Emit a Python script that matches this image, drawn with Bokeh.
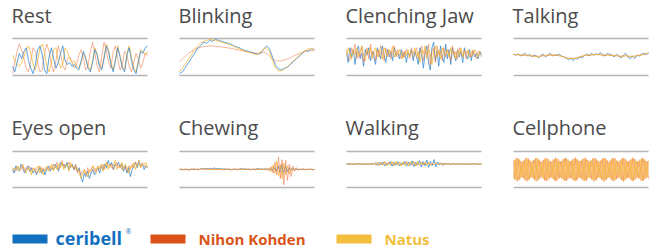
from bokeh.plotting import figure
from bokeh.models import Range1d, Label
from bokeh.layouts import column, row
from bokeh.embed import file_html
from bokeh.resources import INLINE
from bokeh.core.properties import value

# ---------------- data (values relative to the gray guide lines: +1 top, -1 bottom) ----------------
titles = ["Rest", "Blinking", "Clenching Jaw", "Talking",
          "Eyes open", "Chewing", "Walking", "Cellphone"]

legend_labels = ["ceribell", "Nihon Kohden", "Natus"]

rest_ceribell = [-0.5,-0.8,-0.3,0.2,-0.1,0.3,0.5,-0.2,-0.6,-0.9,-0.4,0.4,0.6,0.1,-0.7,-0.9,0.0,0.5,-0.1,-0.6,-0.3,0.2,0.6,-0.2,-0.4,-0.3,-0.5,-0.4,-0.6,-0.7,-0.2,0.3,-0.1,-0.6,-0.8,-0.3,0.4,0.1,-0.5,-0.7,-0.1,0.6,0.3,-0.4,-0.8,-0.2,0.5,0.0,-0.6,-0.8,0.1,0.5,-0.2,-0.7,-0.9,-0.3,0.3,0.2,0.5,0.6]
rest_natus = [0.1,-0.2,-0.4,-0.5,-0.3,0.0,0.4,0.6,0.2,-0.4,-0.7,-0.2,0.5,0.7,0.2,-0.5,-0.8,-0.3,0.4,0.5,-0.2,-0.6,-0.4,0.5,0.3,-0.1,-0.3,-0.2,-0.5,-0.6,-0.3,0.2,0.0,-0.5,-0.7,-0.2,0.5,0.2,-0.4,-0.6,0.0,0.7,0.4,-0.3,-0.7,-0.1,0.6,0.1,-0.5,-0.7,0.2,0.6,0.0,-0.6,-0.8,-0.2,0.4,0.3,0.1,0.3]
rest_nihon = [-0.9,-0.3,0.3,0.7,0.4,-0.1,-0.6,-0.8,-0.2,0.5,0.3,-0.3,-0.8,-0.7,0.2,0.7,0.3,-0.4,-0.8,-0.2,0.6,0.2,-0.5,-0.7,-0.1,0.0,-0.3,-0.6,-0.4,0.1,0.4,-0.1,-0.7,-0.5,0.3,0.8,0.2,-0.5,-0.8,0.0,0.8,0.4,-0.3,-0.6,0.3,0.6,-0.1,-0.7,-0.4,0.3,0.1,-0.5,-0.8,-0.3,0.2,-0.1,-0.6,-0.3,0.2,0.1]

blink_ceribell = [-0.9,-0.8,-0.55,-0.3,-0.05,0.2,0.45,0.6,0.8,0.75,0.9,0.85,0.95,0.9,0.85,0.8,0.75,0.7,0.62,0.55,0.5,0.4,0.35,0.3,0.25,0.2,0.15,0.2,0.4,0.6,0.45,0.0,-0.45,-0.65,-0.7,-0.6,-0.55,-0.4,-0.25,-0.1,0.05,0.2,0.35,0.3,0.45,0.4]
blink_natus = [-0.8,-0.6,-0.35,-0.1,0.15,0.4,0.6,0.75,0.85,0.9,0.95,0.92,0.9,0.85,0.8,0.75,0.7,0.65,0.58,0.5,0.45,0.38,0.3,0.25,0.2,0.15,0.15,0.25,0.45,0.5,0.3,-0.2,-0.6,-0.75,-0.75,-0.65,-0.5,-0.35,-0.2,-0.05,0.1,0.25,0.35,0.45,0.45,0.4]
blink_nihon = [-0.25,-0.1,0.05,0.2,0.3,0.4,0.48,0.52,0.56,0.58,0.6,0.6,0.58,0.56,0.55,0.52,0.5,0.47,0.44,0.4,0.37,0.33,0.3,0.27,0.25,0.22,0.2,0.22,0.25,0.2,0.05,-0.1,-0.2,-0.22,-0.2,-0.15,-0.1,-0.05,0.05,0.12,0.2,0.25,0.3,0.35,0.35,0.32]

jaw_ceribell = [0.2,-0.3,0.5,0.0,0.4,-0.4,0.3,0.6,-0.1,0.2,-0.5,0.4,0.1,0.5,-0.2,0.3,0.0,-0.4,0.5,0.2,-0.1,0.6,0.1,-0.3,0.4,0.0,0.3,-0.2,0.5,0.1,0.2,-0.1,0.4,0.0,0.3,-0.3,0.2,0.1,0.4,-0.2,0.3,0.0,-0.4,0.5,0.1,-0.6,0.2,0.6,-0.3,-0.7,0.5,0.8,-0.2,0.3,-0.5,0.6,0.0,-0.3,0.7,-0.1,0.4,-0.4,0.5,0.1,-0.2,0.4,0.0,0.3,-0.3,0.5,0.1,-0.1,0.4,-0.2,0.3,0.0,0.2,-0.1,0.3,0.1]
jaw_nihon = [0.4,0.0,-0.2,0.5,0.2,0.7,-0.1,0.3,0.0,0.6,-0.3,0.2,0.5,-0.1,0.7,0.1,0.3,-0.2,0.4,0.0,0.6,0.2,-0.2,0.5,0.1,0.4,-0.1,0.3,0.6,0.0,0.4,0.1,-0.1,0.3,0.0,0.4,0.2,-0.1,0.5,0.0,0.2,0.5,-0.1,0.3,0.6,-0.2,0.4,0.1,0.7,-0.4,0.3,0.5,-0.3,0.6,0.1,0.3,-0.2,0.5,0.0,0.4,0.2,-0.2,0.6,0.0,0.3,-0.1,0.5,0.2,0.0,0.4,-0.1,0.3,0.2,0.0,0.4,0.1,-0.1,0.3,0.2,0.0]
jaw_natus = [0.1,0.5,0.2,-0.1,0.4,0.1,0.5,0.0,0.3,0.6,0.1,-0.2,0.4,0.2,0.5,-0.1,0.3,0.5,0.0,0.4,0.2,-0.1,0.5,0.3,0.0,0.4,0.2,0.6,0.0,0.3,0.1,0.4,0.2,-0.1,0.3,0.1,0.4,0.0,0.3,0.2,0.5,0.0,0.3,-0.3,0.4,0.2,0.6,-0.1,0.4,0.2,-0.4,0.3,0.6,0.0,0.4,-0.1,0.5,0.2,0.1,0.4,0.0,0.5,0.2,0.3,-0.1,0.4,0.1,0.5,0.0,0.3,0.2,0.4,0.0,0.3,0.1,0.4,0.2,0.0,0.3,0.2]

talk_ceribell = [0.15,0.1,0.18,0.05,0.12,0.2,0.08,0.14,0.02,0.1,0.05,-0.05,0.08,0.15,0.0,0.1,0.2,0.05,0.12,0.08,0.15,0.05,0.0,-0.05,-0.15,-0.05,-0.2,-0.08,-0.12,0.0,-0.05,0.08,0.15,0.05,0.2,0.1,0.18,0.12,0.25,0.1,0.05,0.2,0.15,0.1,0.0,0.15,0.05,-0.05,0.1,0.2,0.0,-0.1,0.05,-0.08,0.1,0.05,0.15,0.2,0.12,0.25]
talk_natus = [0.15,0.12,0.14,0.1,0.12,0.08,0.1,0.05,0.08,0.03,0.05,0.0,0.05,0.08,0.05,0.1,0.12,0.08,0.1,0.12,0.08,0.05,0.0,-0.05,-0.08,-0.1,-0.06,-0.08,-0.04,0.0,0.04,0.08,0.1,0.12,0.1,0.14,0.12,0.15,0.12,0.1,0.12,0.1,0.08,0.1,0.06,0.08,0.05,0.03,0.05,0.08,0.05,0.02,0.05,0.03,0.08,0.1,0.12,0.15,0.18,0.22]
talk_nihon = [0.12,0.13,0.11,0.12,0.09,0.1,0.07,0.08,0.05,0.06,0.03,0.04,0.06,0.07,0.09,0.1,0.1,0.11,0.1,0.09,0.07,0.04,0.01,-0.03,-0.06,-0.08,-0.07,-0.06,-0.03,0.01,0.05,0.07,0.09,0.1,0.11,0.12,0.13,0.13,0.12,0.11,0.11,0.1,0.09,0.09,0.07,0.07,0.05,0.04,0.05,0.06,0.05,0.04,0.04,0.05,0.07,0.09,0.12,0.14,0.17,0.2]

eyes_ceribell = [0.0,-0.2,0.2,0.0,-0.1,0.3,0.1,-0.2,0.0,0.2,-0.1,0.1,-0.2,0.0,-0.3,-0.1,0.1,-0.2,0.0,-0.3,0.0,0.2,-0.1,0.1,0.0,0.3,0.1,-0.1,0.4,0.2,0.3,0.1,0.4,0.0,0.2,0.3,0.0,0.2,-0.1,0.1,-0.4,-0.7,-0.2,-0.4,-0.1,-0.5,-0.2,0.0,-0.3,-0.1,0.1,-0.2,0.2,0.0,0.3,0.1,0.5,0.2,0.4,0.0,0.3,0.2,0.4,0.1,0.3,-0.1,0.2,-0.2,0.1,-0.4,0.0,0.2,0.4,0.1,0.5,0.2,0.3,0.0,0.2,0.1]
eyes_nihon = [0.1,0.0,-0.1,0.2,0.1,0.0,0.2,-0.1,0.1,0.0,0.2,-0.1,0.0,0.1,-0.2,0.0,0.2,-0.1,0.1,-0.1,0.1,0.0,0.2,0.0,0.3,0.1,0.4,0.0,0.2,0.5,0.1,0.3,0.2,0.4,0.1,0.2,0.0,0.3,-0.2,0.0,-0.3,-0.1,0.0,-0.3,0.1,-0.2,0.0,0.2,-0.1,0.1,0.0,0.2,0.1,0.3,0.0,0.4,0.2,0.1,0.3,0.0,0.2,0.4,0.1,0.3,0.0,0.2,0.1,-0.1,0.2,0.0,0.3,0.1,0.4,0.2,0.3,0.1,0.4,0.2,0.1,0.2]
eyes_natus = [-0.1,0.1,0.0,0.2,-0.1,0.1,0.3,0.0,-0.2,0.1,0.0,-0.3,0.1,-0.1,0.0,0.2,-0.2,0.1,-0.3,0.0,0.2,-0.1,0.0,0.3,-0.1,0.2,0.0,0.3,0.1,0.4,0.0,0.2,0.3,-0.1,0.4,0.1,0.2,0.0,0.1,-0.2,-0.5,-0.3,0.0,-0.2,-0.4,0.0,-0.1,0.2,0.0,-0.2,0.2,0.0,0.3,-0.1,0.2,0.4,0.0,0.3,0.1,0.2,0.5,0.0,0.2,0.1,0.4,0.0,0.3,0.1,-0.2,0.2,0.1,0.4,0.0,0.3,0.5,0.1,0.3,0.2,0.4,0.1]

chew_ceribell = [0.0,0.03,-0.02,0.02,0.0,-0.03,0.02,0.0,0.03,-0.01,0.02,0.0,0.04,0.06,0.03,0.07,0.04,0.06,0.05,0.08,0.04,0.06,0.03,0.05,0.02,0.04,0.0,0.03,-0.02,0.02,0.0,0.03,-0.01,0.02,0.05,0.02,0.04,0.0,0.03,-0.02,0.02,0.0,0.03,0.05,0.02,0.04,0.0,0.03,0.02,0.0,0.05,-0.05,0.12,-0.1,0.2,-0.15,0.25,-0.2,0.15,-0.12,0.1,-0.05,0.06,0.0,0.03,-0.02,0.02,0.0,0.03,-0.01,0.02,0.0,0.02,-0.02,0.0]
chew_nihon = [0.02,-0.02,0.01,-0.03,0.02,0.0,-0.02,0.03,0.0,0.02,-0.02,0.01,0.03,0.0,0.02,-0.01,0.03,0.01,0.04,0.0,0.02,-0.02,0.01,0.03,0.0,-0.02,0.02,0.0,0.03,-0.01,0.02,0.0,-0.02,0.02,0.01,0.03,0.0,0.02,-0.01,0.02,0.0,0.03,-0.02,0.02,0.0,0.01,0.03,-0.01,0.02,0.05,-0.08,0.15,-0.2,0.4,-0.3,0.7,-0.5,0.55,-0.85,0.5,-0.6,0.3,-0.4,0.2,-0.1,0.1,-0.05,0.03,0.0,0.02,-0.02,0.01,0.0,0.02,-0.01,0.01]
chew_natus = [0.0,0.02,-0.01,0.02,0.0,-0.02,0.03,0.0,0.02,-0.01,0.03,0.0,0.02,0.04,0.01,0.03,0.0,0.02,-0.02,0.03,0.0,0.02,0.01,0.0,0.03,-0.01,0.02,0.0,0.02,-0.02,0.01,0.03,0.0,0.02,-0.01,0.02,0.0,0.03,0.0,-0.02,0.02,0.0,0.02,0.01,0.0,0.03,-0.01,0.02,0.04,-0.05,0.1,-0.12,0.25,-0.2,0.45,-0.35,0.3,-0.5,0.35,-0.3,0.2,-0.25,0.1,-0.08,0.05,0.0,0.02,-0.01,0.02,0.0,0.01,-0.02,0.02,0.0,0.01,0.0]

walk_ceribell = [0.3,0.33,0.28,0.31,0.27,0.32,0.3,0.34,0.28,0.3,0.32,0.27,0.31,0.29,0.33,0.3,0.38,0.22,0.4,0.25,0.42,0.2,0.36,0.28,0.45,0.18,0.4,0.24,0.44,0.2,0.38,0.26,0.46,0.18,0.42,0.22,0.48,0.16,0.4,0.25,0.5,0.14,0.44,0.2,0.52,0.12,0.45,0.22,0.55,0.15,0.42,0.26,0.38,0.22,0.36,0.3,0.34,0.27,0.33,0.3,0.32,0.28,0.33,0.29,0.31,0.27,0.32,0.3,0.28,0.33,0.3,0.32,0.28,0.31,0.3]
walk_nihon = [0.28,0.31,0.3,0.27,0.32,0.29,0.31,0.28,0.32,0.3,0.27,0.33,0.29,0.31,0.27,0.35,0.24,0.38,0.22,0.4,0.26,0.42,0.2,0.38,0.24,0.43,0.21,0.4,0.25,0.42,0.2,0.38,0.26,0.44,0.22,0.4,0.24,0.45,0.2,0.4,0.27,0.43,0.22,0.38,0.25,0.4,0.23,0.37,0.26,0.36,0.28,0.34,0.27,0.33,0.3,0.31,0.28,0.32,0.29,0.31,0.3,0.28,0.32,0.3,0.29,0.31,0.28,0.32,0.3,0.29,0.31,0.3,0.28,0.31,0.3]
walk_natus = [0.3,0.29,0.32,0.28,0.3,0.33,0.28,0.31,0.29,0.32,0.3,0.28,0.33,0.3,0.28,0.36,0.25,0.4,0.23,0.38,0.27,0.44,0.2,0.4,0.26,0.42,0.22,0.45,0.24,0.4,0.2,0.43,0.25,0.39,0.22,0.44,0.26,0.4,0.21,0.46,0.24,0.4,0.25,0.42,0.23,0.38,0.27,0.36,0.25,0.38,0.28,0.34,0.3,0.32,0.28,0.33,0.3,0.29,0.32,0.3,0.28,0.31,0.3,0.29,0.32,0.3,0.28,0.31,0.3,0.32,0.29,0.31,0.3,0.29,0.3]

cell_nihon = [0.50,-0.56,0.62,-0.65,0.61,-0.55,0.47,-0.44,0.49,-0.57,0.63,-0.66,0.60,-0.54,0.46,-0.45,0.52,-0.58,0.64,-0.65,0.59,-0.52,0.45,-0.46,0.53,-0.60,0.65,-0.64,0.58,-0.50,0.44,-0.48,0.55,-0.61,0.66,-0.63,0.57,-0.49,0.45,-0.50,0.57,-0.62,0.65,-0.62,0.55,-0.48,0.46,-0.52,0.58,-0.63,0.66,-0.61,0.54,-0.47,0.47,-0.53,0.60,-0.64,0.65,-0.60,0.52,-0.46,0.48,-0.55,0.61,-0.65,0.64,-0.58,0.50,-0.45,0.49,-0.56,0.62,-0.66,0.63,-0.57,0.49,-0.44,0.50,-0.57,0.63,-0.65,0.62,-0.55,0.47,-0.45,0.51,-0.58,0.64,-0.66,0.60,-0.53,0.46,-0.46,0.53,-0.60,0.65,-0.64,0.58,-0.51,0.45,-0.48,0.55,-0.61,0.66,-0.62,0.56,-0.49,0.46,-0.51]
cell_natus = [-0.46,0.52,-0.58,0.62,-0.60,0.54,-0.46,0.42,-0.47,0.54,-0.60,0.63,-0.58,0.52,-0.44,0.43,-0.50,0.56,-0.61,0.62,-0.57,0.50,-0.43,0.44,-0.51,0.57,-0.62,0.61,-0.55,0.48,-0.42,0.46,-0.53,0.58,-0.63,0.60,-0.54,0.47,-0.43,0.48,-0.55,0.60,-0.62,0.59,-0.53,0.46,-0.44,0.50,-0.56,0.60,-0.63,0.58,-0.51,0.45,-0.45,0.51,-0.57,0.61,-0.62,0.57,-0.50,0.44,-0.46,0.53,-0.58,0.62,-0.61,0.55,-0.48,0.43,-0.47,0.54,-0.60,0.63,-0.60,0.54,-0.47,0.42,-0.48,0.55,-0.60,0.62,-0.59,0.52,-0.45,0.43,-0.49,0.56,-0.61,0.63,-0.57,0.50,-0.44,0.44,-0.51,0.57,-0.62,0.61,-0.55,0.49,-0.43,0.46,-0.53,0.58,-0.63,0.59,-0.53,0.47,-0.44,0.49]

# drawing order inside each panel: first listed is drawn first (underneath)
panels = [
    {"Nihon Kohden": rest_nihon, "Natus": rest_natus, "ceribell": rest_ceribell},
    {"Nihon Kohden": blink_nihon, "ceribell": blink_ceribell, "Natus": blink_natus},
    {"ceribell": jaw_ceribell, "Nihon Kohden": jaw_nihon, "Natus": jaw_natus},
    {"ceribell": talk_ceribell, "Nihon Kohden": talk_nihon, "Natus": talk_natus},
    {"ceribell": eyes_ceribell, "Nihon Kohden": eyes_nihon, "Natus": eyes_natus},
    {"ceribell": chew_ceribell, "Natus": chew_natus, "Nihon Kohden": chew_nihon},
    {"ceribell": walk_ceribell, "Nihon Kohden": walk_nihon, "Natus": walk_natus},
    {"Nihon Kohden": cell_nihon, "Natus": cell_natus},
]

# ---------------- styling ----------------
trace_color = {"ceribell": "#2d86d2", "Nihon Kohden": "#ee7443", "Natus": "#f6b62f"}
trace_alpha = {"ceribell": 0.75, "Nihon Kohden": 0.55, "Natus": 0.75}
key_color = {"ceribell": "#1170bf", "Nihon Kohden": "#db5318", "Natus": "#f2be3c"}
TITLE_FONT = "Open Sans"
TITLE_COLOR = "#4b4b4b"
GUIDE_COLOR = "#b4b4b4"

PANEL_W = 167
LAST_W = 650 - 3 * PANEL_W
LINE_L, LINE_R = 12, 147


def make_panel(title, series, width, height, top_px, bot_px, mid_px):
    span = LINE_R - LINE_L
    xr = Range1d(-LINE_L / span, (width - LINE_L) / span)
    half = (bot_px - top_px) / 2.0
    yr = Range1d(-1 - (height - bot_px) / half, 1 + top_px / half)
    p = figure(width=width, height=height, x_range=xr, y_range=yr,
               toolbar_location=None, output_backend="svg", min_border=0,
               x_axis_location=None, y_axis_location=None,
               outline_line_color=None, background_fill_color="white",
               border_fill_color="white")
    p.grid.visible = False
    p.segment(x0=[0, 0], y0=[1, -1], x1=[1, 1], y1=[1, -1],
              line_color=GUIDE_COLOR, line_width=1.6)
    for name, ys in series.items():
        n = len(ys)
        xs = [i / (n - 1) for i in range(n)]
        p.line(xs, ys, line_color=trace_color[name], line_alpha=trace_alpha[name],
               line_width=1.0)
    p.add_layout(Label(x=LINE_L - 1, y=height - mid_px, x_units="screen", y_units="screen",
                       text=title, text_font=TITLE_FONT, text_font_size="20px",
                       text_color=TITLE_COLOR, text_baseline="middle"))
    return p


# row 1 occupies page y 0..110, row 2 page y 110..220, legend 220..250
row1 = [make_panel(titles[i], panels[i], PANEL_W if i < 3 else LAST_W, 110, 38, 75, 15)
        for i in range(4)]
row2 = [make_panel(titles[i + 4], panels[i + 4], PANEL_W if i < 3 else LAST_W, 110, 41, 77, 17)
        for i in range(4)]

# legend strip
leg = figure(width=650, height=30, x_range=Range1d(0, 650), y_range=Range1d(30, 0),
             toolbar_location=None, output_backend="svg", min_border=0,
             x_axis_location=None, y_axis_location=None, outline_line_color=None)
leg.grid.visible = False
key_x = [12, 150, 336]
label_x = [55, 198, 384]
leg.rect(x=[k + 17.5 for k in key_x], y=[18.5] * 3, width=35, height=9,
         fill_color=[key_color[n] for n in legend_labels], line_color=None)
leg.text(x=label_x[:1], y=[17.5], text=legend_labels[:1],
         text_color=key_color["ceribell"],
         text_font=value("Open Sans"), text_font_style="bold", text_font_size="18px",
         text_baseline="middle")
leg.text(x=label_x[1:], y=[18.5] * 2, text=legend_labels[1:],
         text_color=[key_color[n] for n in legend_labels[1:]],
         text_font=value("Open Sans"), text_font_style="bold", text_font_size="15px",
         text_baseline="middle")
leg.text(x=[label_x[0] + 70], y=[11], text=["®"], text_color=key_color["ceribell"],
         text_font=value("Open Sans"), text_font_size="7px", text_baseline="middle")

layout = column(row(*row1), row(*row2), leg)
open("out.html", "w").write(file_html(layout, INLINE))
